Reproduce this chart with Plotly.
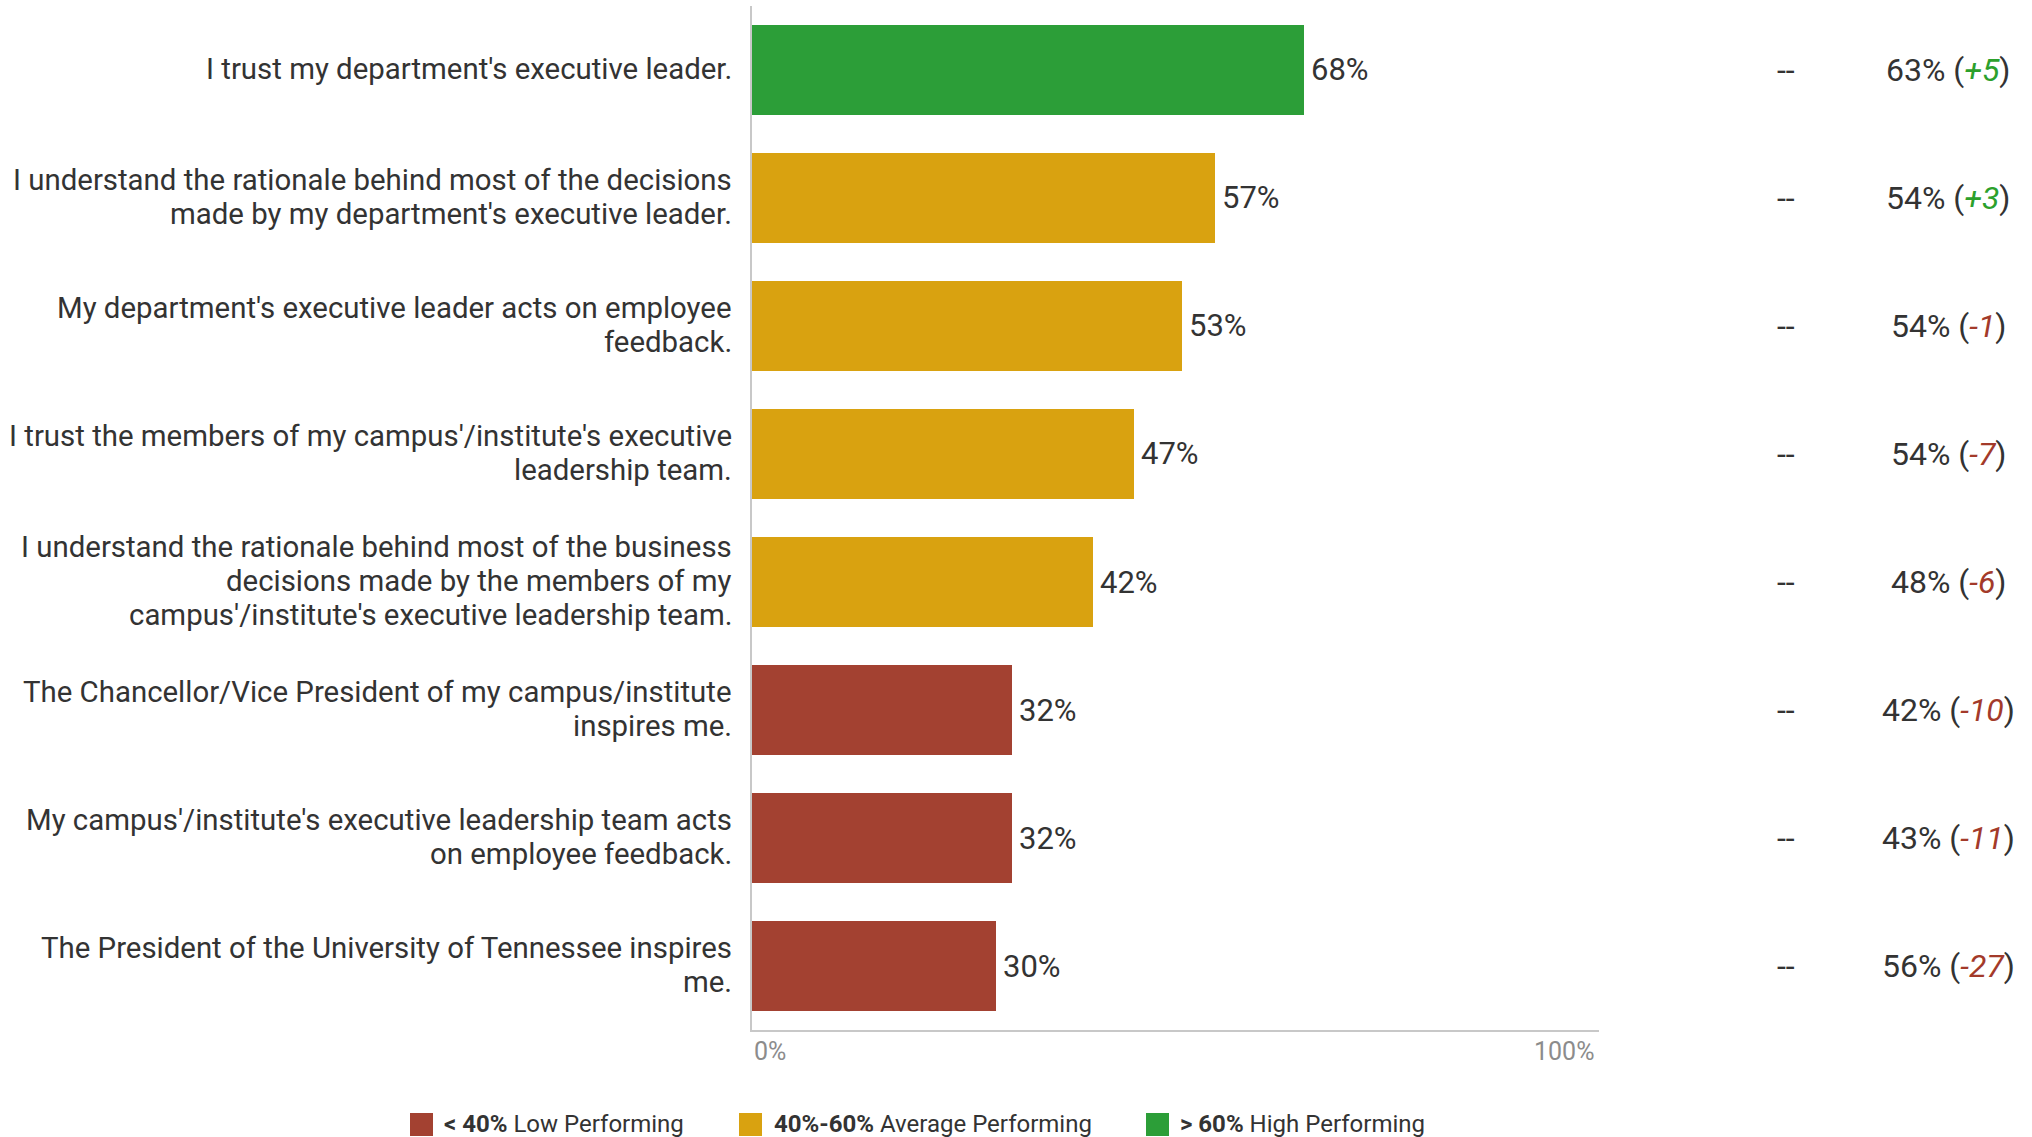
import plotly.graph_objects as go

# Survey statements (top to bottom); "<br>" marks a line break
statements = [
    "I trust my department's executive leader.",
    "I understand the rationale behind most of the decisions<br>made by my department's executive leader.",
    "My department's executive leader acts on employee<br>feedback.",
    "I trust the members of my campus'/institute's executive<br>leadership team.",
    "I understand the rationale behind most of the business<br>decisions made by the members of my<br>campus'/institute's executive leadership team.",
    "The Chancellor/Vice President of my campus/institute<br>inspires me.",
    "My campus'/institute's executive leadership team acts<br>on employee feedback.",
    "The President of the University of Tennessee inspires<br>me.",
]
favorable = [68, 57, 53, 47, 42, 32, 32, 30]
comparison_col = ["--", "--", "--", "--", "--", "--", "--", "--"]
benchmark = [63, 54, 54, 54, 48, 42, 43, 56]
benchmark_diff = [5, 3, -1, -7, -6, -10, -11, -27]

tick_vals = [0, 100]
tick_text = ["0%", "100%"]

legend_labels = [
    ("<b>< 40%</b> Low Performing", "#A34131"),
    ("<b>40%-60%</b> Average Performing", "#D9A210"),
    ("<b>> 60%</b> High Performing", "#2C9E38"),
]

GREEN, GOLD, RED = "#2C9E38", "#D9A210", "#A34131"
DIFF_GREEN, DIFF_RED = "#2CA02C", "#A33A2A"
TEXT = "#333333"
FONT = "Roboto"

W, H = 2032, 1137
LABEL_LINE_PX = 34  # spacing between wrapped statement lines


def band_colour(v):
    if v > 60:
        return GREEN
    if v >= 40:
        return GOLD
    return RED


cats = [f"s{i}" for i in range(len(statements))]

fig = go.Figure()
fig.add_trace(go.Bar(
    x=favorable,
    y=cats,
    orientation="h",
    width=0.71,
    marker=dict(color=[band_colour(v) for v in favorable], line=dict(width=0)),
    hoverinfo="skip",
    showlegend=False,
))

annotations = []

# statement labels to the left of the axis, one annotation per wrapped line
for c, s in zip(cats, statements):
    lines = s.split("<br>")
    n = len(lines)
    for k, ln in enumerate(lines):
        annotations.append(dict(
            x=734 / W, xref="paper", y=c, yref="y",
            text=ln, showarrow=False, xanchor="right", yanchor="middle", align="right",
            yshift=((n - 1) / 2 - k) * LABEL_LINE_PX + 1,
            font=dict(family=FONT, size=29.4, color=TEXT),
        ))

# value labels at bar ends
for c, v in zip(cats, favorable):
    annotations.append(dict(
        x=v, xref="x", y=c, yref="y",
        text=f"{v}%", showarrow=False, xanchor="left", yanchor="middle",
        xshift=5,
        font=dict(family=FONT, size=31, color=TEXT),
    ))

# comparison columns on the right
for c, m, b, d in zip(cats, comparison_col, benchmark, benchmark_diff):
    annotations.append(dict(
        x=1786 / W, xref="paper", y=c, yref="y",
        text=m, showarrow=False, xanchor="center", yanchor="middle",
        font=dict(family=FONT, size=32, color=TEXT),
    ))
    col = DIFF_GREEN if d > 0 else DIFF_RED
    sign = f"+{d}" if d > 0 else f"{d}"
    annotations.append(dict(
        x=1948 / W, xref="paper", y=c, yref="y",
        text=f"{b}% (<i><span style='color:{col}'>{sign}</span></i>)",
        showarrow=False, xanchor="center", yanchor="middle",
        font=dict(family=FONT, size=32, color=TEXT),
    ))

# x-axis tick labels
for tv, tt in zip(tick_vals, tick_text):
    annotations.append(dict(
        x=tv, xref="x", y=1 - 1035 / H, yref="paper",
        text=tt, showarrow=False,
        xanchor="left" if tv == 0 else "center", yanchor="top",
        font=dict(family=FONT, size=25, color="#8C8C8C"),
    ))

# legend: coloured squares with labels
shapes = []
sq_x = [410, 739, 1146]
txt_x = [442, 772, 1178]
for (lbl, colr), sx, tx in zip(legend_labels, sq_x, txt_x):
    shapes.append(dict(
        type="rect", xref="paper", yref="paper",
        x0=sx / W, x1=(sx + 23) / W,
        y0=1 - 1136 / H, y1=1 - 1113 / H,
        fillcolor=colr, line=dict(width=0),
    ))
    annotations.append(dict(
        x=tx / W, xref="paper", y=1 - 1124 / H, yref="paper",
        text=lbl, showarrow=False, xanchor="left", yanchor="middle",
        font=dict(family=FONT, size=24, color=TEXT),
    ))

fig.update_layout(
    width=W, height=H,
    margin=dict(l=0, r=0, t=0, b=0),
    paper_bgcolor="white", plot_bgcolor="white",
    annotations=annotations,
    shapes=shapes,
    bargap=0,
    xaxis=dict(
        domain=[752 / W, 1599 / W],
        range=[0, 104.3],
        showgrid=False, zeroline=False,
        showline=True, linecolor="#C8C8C8", linewidth=2,
        showticklabels=False, ticks="",
        fixedrange=True,
    ),
    yaxis=dict(
        domain=[1 - 1030 / H, 1 - 6 / H],
        categoryorder="array", categoryarray=cats,
        autorange="reversed",
        showgrid=False, zeroline=False,
        showline=True, linecolor="#C8C8C8", linewidth=2,
        showticklabels=False, ticks="",
        fixedrange=True,
    ),
    font=dict(family=FONT, color=TEXT),
)

fig.write_html("out.html", config={"displayModeBar": False})
